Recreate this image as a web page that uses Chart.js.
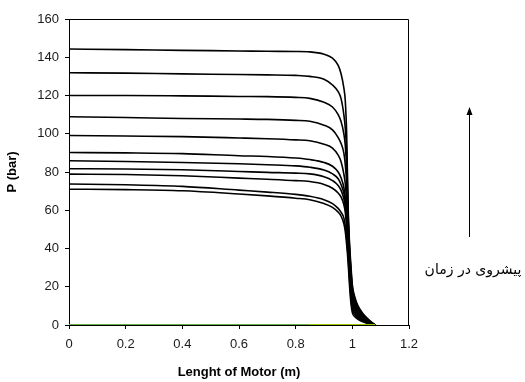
<!DOCTYPE html>
<html>
<head>
<meta charset="utf-8">
<script src="https://cdn.jsdelivr.net/npm/chart.js@4/dist/chart.umd.min.js"></script>
<style>
  html, body { margin: 0; padding: 0; background: #ffffff; }
  #wrap { width: 525px; height: 382px; position: relative; }
</style>
</head>
<body>
<div id="wrap"><canvas id="c" width="525" height="382"></canvas></div>
<script>
// Position along the motor (m), shared by every pressure curve
const lengthM = [0, 0.2, 0.4, 0.6, 0.7, 0.8, 0.85, 0.9, 0.93, 0.95, 0.96, 0.97, 0.975, 0.98, 0.985, 0.99, 0.995, 1.0, 1.01, 1.02, 1.04, 1.06, 1.08];

// Pressure profiles (bar), one per time step
const p1  = [144.3, 144.0, 143.6, 143.3, 143.1, 143.0, 142.8, 141.6, 139.5, 135.8, 131.5, 124, 117.5, 100, 62, 43, 31, 21, 14, 10, 5.5, 2.5, 0];
const p2  = [131.9, 131.7, 131.3, 131.0, 130.8, 130.5, 130.0, 128.5, 125.5, 122, 118.5, 110, 103, 90, 59, 41, 29, 19.5, 13, 9.4, 5.1, 2.3, 0];
const p3  = [120.0, 120.0, 119.8, 119.5, 119.4, 119.0, 118.5, 116.5, 114, 110, 106.5, 100, 94, 82, 56, 39, 27.5, 18, 12, 8.7, 4.7, 2.1, 0];
const p4  = [108.9, 108.5, 108.0, 107.7, 107.5, 107.0, 106.5, 104.5, 102, 98, 95, 90, 84, 74, 54, 37, 26, 16.5, 11, 8, 4.3, 1.9, 0];
const p5  = [99.1, 98.8, 98.5, 97.8, 97.4, 96.8, 96.3, 94.5, 92.5, 88.8, 85.5, 79, 74, 65, 52, 35, 24, 15, 10, 7.2, 3.9, 1.7, 0];
const p6  = [90.2, 90.0, 89.6, 88.5, 88.1, 87.3, 86.5, 85, 83, 80, 77, 72, 67, 59, 49, 33, 22, 14, 9.2, 6.5, 3.5, 1.5, 0];
const p7  = [85.9, 85.5, 85.0, 84.3, 83.8, 83.2, 82.5, 81, 79, 76.5, 73.5, 69, 64.5, 57, 46, 31, 20.5, 12.5, 8.2, 5.8, 3.1, 1.3, 0];
const p8  = [81.7, 81.6, 81.2, 80.3, 79.8, 79.4, 79, 77.5, 75.5, 73, 70.5, 66, 62, 54, 43, 29, 18.5, 11, 7.2, 5, 2.7, 1.1, 0];
const p9  = [78.9, 78.7, 78.0, 76.8, 76.2, 75.5, 75, 73.5, 71.5, 69, 67, 63, 59, 51, 40, 27, 16.5, 9.5, 6.2, 4.3, 2.3, 0.9, 0];
const p10 = [73.7, 73.3, 72.5, 70.5, 69.5, 68.3, 67.3, 65.5, 63.5, 61, 59, 56, 52, 45, 36, 24, 14, 8, 5.2, 3.6, 1.9, 0.7, 0];
const p11 = [71.0, 70.8, 70.2, 68.5, 67.5, 66.3, 65.5, 63.5, 61.5, 59, 57, 53, 49, 42, 33, 21, 11.5, 6.5, 4.2, 2.9, 1.5, 0.5, 0];
const profiles = [p1, p2, p3, p4, p5, p6, p7, p8, p9, p10, p11];

// Zero-pressure baseline segments (x ranges, bar)
const baseA_x = [0, 0.85];
const baseA_y = [0, 0];
const baseB_x = [0.85, 1.08];
const baseB_y = [0, 0];

// Axis ticks / texts
const xTicks = [0, 0.2, 0.4, 0.6, 0.8, 1, 1.2];
const yTicks = [0, 20, 40, 60, 80, 100, 120, 140, 160];
const xTitle = 'Lenght of Motor (m)';
const yTitle = 'P (bar)';
const noteText = 'پیشروی در زمان';

const toPts = (xs, ys) => xs.map((x, i) => ({ x: x, y: ys[i] }));

const datasets = [
  { data: toPts(baseA_x, baseA_y), borderColor: '#66b044', borderWidth: 2.2, pointRadius: 0, tension: 0 },
  { data: toPts(baseB_x, baseB_y), borderColor: '#99cc00', borderWidth: 2.2, pointRadius: 0, tension: 0 }
].concat(profiles.map(p => ({
  data: toPts(lengthM, p),
  borderColor: '#000000',
  borderWidth: 1.6,
  pointRadius: 0,
  cubicInterpolationMode: 'monotone',
  fill: false
})));

const framePlugin = {
  id: 'frame',
  afterDatasetsDraw(chart) {
    const a = chart.chartArea, ctx = chart.ctx;
    ctx.save();
    ctx.strokeStyle = '#000000';
    ctx.lineWidth = 1;
    ctx.beginPath();
    ctx.moveTo(a.left, a.top + 0.5);
    ctx.lineTo(a.right - 0.5, a.top + 0.5);
    ctx.lineTo(a.right - 0.5, a.bottom);
    ctx.stroke();
    ctx.restore();
  },
  afterDraw(chart) {
    const ctx = chart.ctx;
    ctx.save();
    const ax = 469.5, y0 = 237, y1 = 107;
    ctx.strokeStyle = '#000';
    ctx.lineWidth = 1;
    ctx.beginPath();
    ctx.moveTo(ax, y0);
    ctx.lineTo(ax, y1 + 6);
    ctx.stroke();
    ctx.fillStyle = '#000';
    ctx.beginPath();
    ctx.moveTo(ax, y1);
    ctx.lineTo(ax - 3, y1 + 8);
    ctx.lineTo(ax + 3, y1 + 8);
    ctx.closePath();
    ctx.fill();
    ctx.font = '14px "DejaVu Sans", serif';
    ctx.textAlign = 'center';
    ctx.textBaseline = 'middle';
    ctx.fillText(noteText, 473, 270);
    ctx.restore();
  }
};

Chart.defaults.font.family = '"Liberation Sans", Arial, sans-serif';
Chart.defaults.color = '#1a1a1a';

new Chart(document.getElementById('c'), {
  type: 'line',
  data: { datasets: datasets },
  options: {
    responsive: false,
    animation: false,
    devicePixelRatio: 1,
    layout: { padding: { top: 19, right: 116, left: 0, bottom: 0 } },
    plugins: { legend: { display: false }, tooltip: { enabled: false } },
    scales: {
      x: {
        type: 'linear', min: 0, max: 1.2,
        afterBuildTicks: s => { s.ticks = xTicks.map(v => ({ value: v })); },
        afterFit: s => { s.height = 57; },
        border: { color: '#000', width: 1 },
        grid: { display: true, drawOnChartArea: false, tickLength: 4, color: '#000' },
        ticks: { font: { size: 13 }, padding: 8, maxRotation: 0, callback: v => String(+v.toFixed(1)) },
        title: { display: true, text: xTitle, font: { size: 13, weight: 'bold' }, color: '#000', padding: { top: 0, bottom: 2 } }
      },
      y: {
        type: 'linear', min: 0, max: 160,
        afterBuildTicks: s => { s.ticks = yTicks.map(v => ({ value: v })); },
        afterFit: s => { s.width = 69; },
        border: { color: '#000', width: 1 },
        grid: { display: true, drawOnChartArea: false, tickLength: 4, color: '#000' },
        ticks: { font: { size: 13 }, padding: 6 },
        title: { display: true, text: yTitle, font: { size: 13, weight: 'bold' }, color: '#000', padding: { top: 5, bottom: 5 } }
      }
    }
  },
  plugins: [framePlugin]
});
</script>
</body>
</html>
